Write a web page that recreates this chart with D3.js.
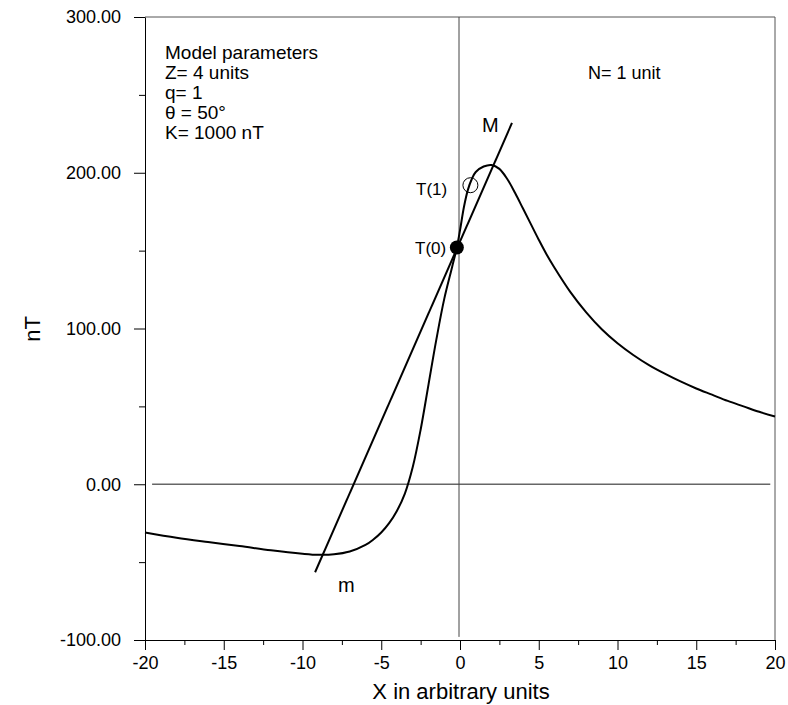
<!DOCTYPE html>
<html><head><meta charset="utf-8">
<script src="https://cdn.jsdelivr.net/npm/d3@7"></script>
<style>
body{margin:0;background:#fff}
svg{display:block}
text{font-family:"Liberation Sans",Arial,sans-serif;fill:#000}
</style>
</head><body>
<svg id="c" width="788" height="705"></svg>
<script>
// ---- data ----
const curveX = [-20,-18,-16,-14,-12,-10,-9,-8,-7,-6,-5.5,-5,-4.5,-4,-3.5,-3,-2.5,-2,-1.5,-1,-0.5,-0.2,0,0.25,0.5,0.75,1,1.5,2,2.5,3,3.5,4,4.5,5,5.5,6,7,8,9,10,11,12,13,14,15,16,17,18,19,20];
const curveY = [-31,-34.4,-37.1,-39.6,-42.4,-44.6,-45.3,-45,-43.2,-39,-35.5,-31,-25,-17,-6,11,35,64,93,119,139.5,152,163,178,189,196,200.5,204,205,202.5,196,187,177,167,157,147.5,139,123.5,110.5,99.5,90.5,83,76.5,71,66,61.5,57.5,53.5,50,46.5,43.5];
const lineX = [-9.2, 3.3];
const lineY = [-56.5, 232];
const pointT0 = [-0.2, 152];
const pointT1 = [0.66, 192];
const xTicks = [-20,-15,-10,-5,0,5,10,15,20];
const xMinorTicks = [-17.5,-12.5,-7.5,-2.5,2.5,7.5,12.5,17.5];
const yTicks = [-100,0,100,200,300];
const yMinorTicks = [-50,50,150,250];
const paramLines = ["Model parameters","Z= 4 units","q= 1","θ = 50°","K= 1000 nT"];
const noteText = "N= 1 unit";
const xTitle = "X in arbitrary units";
const yTitle = "nT";

// ---- drawing ----
const svg = d3.select("#c");
const x = d3.scaleLinear().domain([-20,20]).range([145,775]);
const y = d3.scaleLinear().domain([-100,300]).range([640,17]);
const font = "'Liberation Sans',Arial,sans-serif";
const hyph = s => s.replace("\u2212","-");

// frame (top & right)
svg.append("line").attr("x1",x(-20)).attr("x2",x(20)).attr("y1",y(300)).attr("y2",y(300))
  .attr("stroke","#555").attr("stroke-width",1);
svg.append("line").attr("x1",x(20)).attr("x2",x(20)).attr("y1",y(300)).attr("y2",y(-100))
  .attr("stroke","#555").attr("stroke-width",1);

// zero line and x=0 line
svg.append("line").attr("x1",x(-19.55)).attr("x2",x(19.7)).attr("y1",y(0)).attr("y2",y(0))
  .attr("stroke","#666").attr("stroke-width",1.5);
svg.append("line").attr("x1",x(0)-1).attr("x2",x(0)-1).attr("y1",y(300)).attr("y2",y(-98))
  .attr("stroke","#444").attr("stroke-width",1);

// axes
function styleAxis(g){
  g.select(".domain").attr("stroke","#000").attr("stroke-width",1);
  g.selectAll(".tick line").attr("stroke","#000").attr("stroke-width",1);
  g.selectAll("text").attr("font-family",font).attr("font-size",18).attr("fill","#000");
}
const gx = svg.append("g").attr("transform",`translate(0,${y(-100)})`)
  .call(d3.axisBottom(x).tickValues(xTicks).tickSize(10).tickSizeOuter(0).tickPadding(6).tickFormat(d => String(d)));
styleAxis(gx);
const gxm = svg.append("g").attr("transform",`translate(0,${y(-100)})`)
  .call(d3.axisBottom(x).tickValues(xMinorTicks).tickSize(5).tickSizeOuter(0).tickFormat(""));
gxm.select(".domain").remove();
gxm.selectAll(".tick line").attr("stroke","#000");

const gy = svg.append("g").attr("transform",`translate(${x(-20)},0)`)
  .call(d3.axisLeft(y).tickValues(yTicks).tickSize(11).tickSizeOuter(0).tickPadding(13).tickFormat(d => hyph(d3.format(".2f")(d))));
styleAxis(gy);
const gym = svg.append("g").attr("transform",`translate(${x(-20)},0)`)
  .call(d3.axisLeft(y).tickValues(yMinorTicks).tickSize(6).tickSizeOuter(0).tickFormat(""));
gym.select(".domain").remove();
gym.selectAll(".tick line").attr("stroke","#000");

// titles
svg.append("text").attr("x",461).attr("y",699).attr("text-anchor","middle")
  .attr("font-size",22).text(xTitle);
svg.append("text").attr("transform","translate(40,329) rotate(-90)").attr("text-anchor","middle")
  .attr("font-size",22).text(yTitle);

// curve
const pts = curveX.map((d,i)=>[d,curveY[i]]);
svg.append("path").datum(pts)
  .attr("d", d3.line().x(d=>x(d[0])).y(d=>y(d[1])).curve(d3.curveCatmullRom.alpha(0.5)))
  .attr("fill","none").attr("stroke","#000").attr("stroke-width",2);

// straight line m-M
const lpts = lineX.map((d,i)=>[d,lineY[i]]);
svg.append("path").datum(lpts)
  .attr("d", d3.line().x(d=>x(d[0])).y(d=>y(d[1])))
  .attr("fill","none").attr("stroke","#000").attr("stroke-width",2);

// points
svg.append("circle").attr("cx",x(pointT0[0])).attr("cy",y(pointT0[1])).attr("r",7).attr("fill","#000");
svg.append("circle").attr("cx",x(pointT1[0])).attr("cy",y(pointT1[1])).attr("r",7.5)
  .attr("fill","none").attr("stroke","#000").attr("stroke-width",1);

// labels
svg.append("text").attr("x",415).attr("y",254).attr("font-size",17).text("T(0)");
svg.append("text").attr("x",416).attr("y",195).attr("font-size",17).text("T(1)");
svg.append("text").attr("x",482).attr("y",132).attr("font-size",20).text("M");
svg.append("text").attr("x",338).attr("y",592).attr("font-size",20).text("m");

// parameter block
const pb = svg.append("text").attr("font-size",19);
paramLines.forEach((s,i)=>{
  pb.append("tspan").attr("x",165).attr("y",59+i*20).text(s);
});
svg.append("text").attr("x",588).attr("y",79).attr("font-size",18).text(noteText);
</script>
</body></html>
